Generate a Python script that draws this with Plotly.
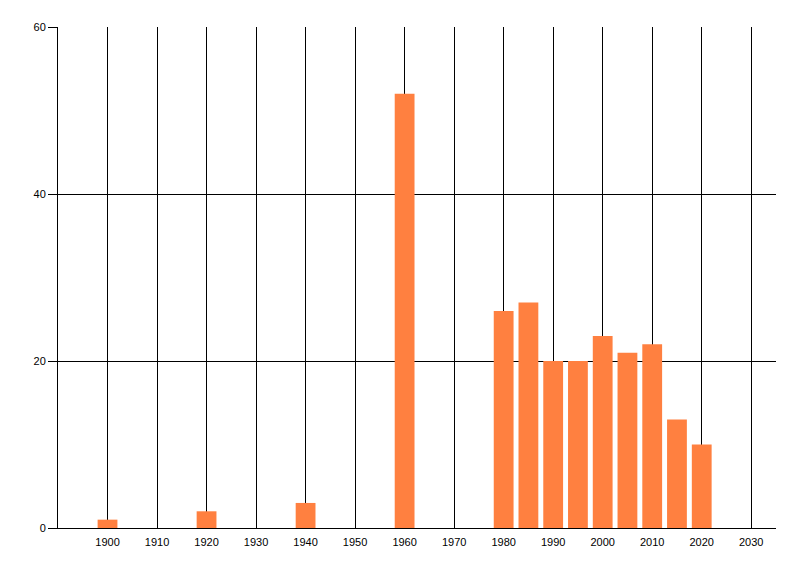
import plotly.graph_objects as go

years = [1900, 1920, 1940, 1960, 1980, 1985, 1990, 1995, 2000, 2005, 2010, 2015, 2020]
counts = [1, 2, 3, 52, 26, 27, 20, 20, 23, 21, 22, 13, 10]

x_ticks = [1900, 1910, 1920, 1930, 1940, 1950, 1960, 1970, 1980, 1990, 2000, 2010, 2020, 2030]
y_ticks = [0, 20, 40, 60]

fig = go.Figure()

fig.add_trace(
    go.Bar(
        x=years,
        y=counts,
        width=4,
        marker_color="#FF8040",
        marker_line_width=0,
    )
)

# page body has an 8px margin, so the figure is a bit smaller than the window
fig.update_layout(
    width=784,
    height=560,
    paper_bgcolor="white",
    plot_bgcolor="white",
    showlegend=False,
    margin=dict(l=50, r=16, t=19, b=40),
    font=dict(family="Liberation Sans, DejaVu Sans, sans-serif", size=11, color="black"),
)

fig.update_xaxes(
    range=[1890, 2035],
    tickvals=x_ticks,
    ticktext=[str(t) for t in x_ticks],
    showgrid=True,
    gridcolor="black",
    gridwidth=1,
    showline=True,
    linecolor="black",
    linewidth=1,
    ticks="outside",
    ticklen=4,
    tickcolor="white",
    zeroline=False,
)

fig.update_yaxes(
    range=[0, 60],
    tickvals=y_ticks,
    showgrid=True,
    gridcolor="black",
    gridwidth=1,
    showline=True,
    linecolor="black",
    linewidth=1,
    ticks="outside",
    ticklen=9,
    tickcolor="black",
    zeroline=False,
)

fig.write_html("out.html")
